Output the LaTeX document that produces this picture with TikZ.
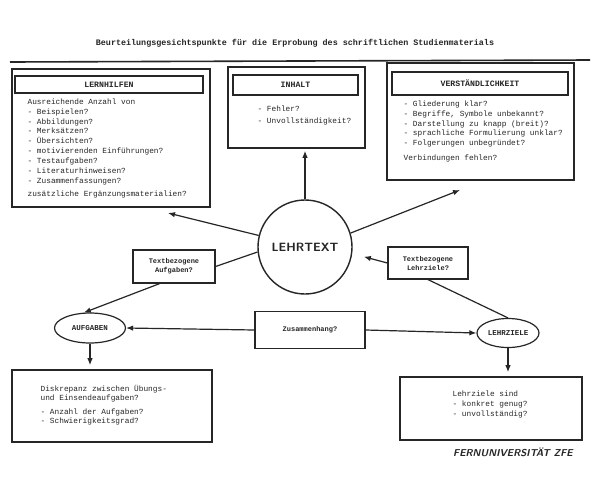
\documentclass[tikz,border=0pt]{standalone}
\usepackage{fontspec}
\setmainfont{Liberation Sans}
\setmonofont{Liberation Mono}
\usetikzlibrary{arrows.meta,shapes.geometric}

\begin{document}
\begin{tikzpicture}[x=1pt,y=-1pt,>={Latex[length=7pt,width=5.5pt]},color=black!85,line width=1.2pt,
  bigbox/.style={draw,line width=1.6pt,inner sep=0pt},
  headbox/.style={draw,line width=1.2pt,inner sep=0pt,font=\ttfamily\bfseries\fontsize{8.2}{10}\selectfont},
  askbox/.style={draw,line width=1.2pt,inner sep=0pt,align=center,font=\ttfamily\bfseries\fontsize{7}{9}\selectfont},
  oval/.style={draw,ellipse,line width=1.2pt,inner sep=0pt,font=\ttfamily\bfseries\fontsize{7.5}{9}\selectfont},
  body/.style={anchor=north west,inner sep=0pt,align=left,font=\ttfamily\fontsize{7.8}{9.9}\selectfont}]
\fill[white] (0,0) rectangle (592,477);
\useasboundingbox (0,0) rectangle (592,477);
% title and rule
\node[font=\ttfamily\bfseries\fontsize{8.4}{10}\selectfont] (titel) at (295,43) {Beurteilungsgesichtspunkte für die Erprobung des schriftlichen Studienmaterials};
\draw[line width=1.6pt] (10,62) -- (590,60);
% upper boxes
\node[bigbox,minimum width=198pt,minimum height=138pt] (lern) at (111,138) {};
\node[headbox,minimum width=188pt,minimum height=17pt] (lernkopf) at (109,84.5) {LERNHILFEN};
\node[body] (lerntext) at (27,98) {Ausreichende Anzahl von\\- Beispielen?\\- Abbildungen?\\- Merksätzen?\\- Übersichten?\\- motivierenden Einführungen?\\- Testaufgaben?\\- Literaturhinweisen?\\- Zusammenfassungen?\\[3pt]zusätzliche Ergänzungsmaterialien?};
\node[bigbox,minimum width=137pt,minimum height=81pt] (inhalt) at (296.5,107.5) {};
\node[headbox,minimum width=125pt,minimum height=20pt] (inhaltkopf) at (295.5,85) {INHALT};
\node[body,font=\ttfamily\fontsize{7.8}{12}\selectfont] (inhalttext) at (257,105) {- Fehler?\\- Unvollständigkeit?};
\node[bigbox,minimum width=187pt,minimum height=117pt] (verst) at (480.5,121.5) {};
\node[headbox,minimum width=176pt,minimum height=23pt] (verstkopf) at (480,83.5) {VERSTÄNDLICHKEIT};
\node[body] (versttext) at (403,100) {- Gliederung klar?\\- Begriffe, Symbole unbekannt?\\- Darstellung zu knapp (breit)?\\- sprachliche Formulierung unklar?\\- Folgerungen unbegründet?\\[5pt]Verbindungen fehlen?};
% centre
\node[draw,circle,line width=1.4pt,minimum size=94pt,inner sep=0pt,font=\sffamily\bfseries\fontsize{12}{14}\selectfont] (lehrtext) at (305,247) {LEHRTEXT};
\node[askbox,minimum width=82pt,minimum height=33pt] (tbA) at (174,266.5) {Textbezogene\\Aufgaben?};
\node[askbox,minimum width=80pt,minimum height=32pt] (tbL) at (428,263) {Textbezogene\\Lehrziele?};
\node[askbox,minimum width=110pt,minimum height=37pt] (zus) at (310,330) {Zusammenhang?};
\node[oval,minimum width=71pt,minimum height=30pt] (aufg) at (90,328) {AUFGABEN};
\node[oval,minimum width=62pt,minimum height=29pt] (lehrz) at (508,333) {LEHRZIELE};
% lower boxes
\node[bigbox,minimum width=200pt,minimum height=72pt] (aufgbox) at (112,406) {};
\node[body,font=\ttfamily\fontsize{7.8}{9}\selectfont] (aufgtext) at (40,385) {Diskrepanz zwischen Übungs-\\und Einsendeaufgaben?\\[5pt]- Anzahl der Aufgaben?\\- Schwierigkeitsgrad?};
\node[bigbox,minimum width=182pt,minimum height=63pt] (zielbox) at (491,408.5) {};
\node[body] (zieltext) at (452,390) {Lehrziele sind\\- konkret genug?\\- unvollständig?};
\node[font=\sffamily\bfseries\itshape\fontsize{10}{12}\selectfont] (fern) at (513,452) {FERNUNIVERSITÄT ZFE};
% connectors
\coordinate (lernpfeil) at (168,213);
\coordinate (verstpfeil) at (460,190);
\draw[->] (lehrtext.166) -- (lernpfeil);
\draw[->] (lehrtext.17) -- (verstpfeil);
\draw[->,shorten >=2pt] (lehrtext.north) -- (inhalt.south -| lehrtext.north);
\draw (lehrtext.186) -- (tbA.east);
\draw[->] (tbA.230) -- (aufg.112);
\draw (lehrz.north) -- (tbL.south);
\draw[->,shorten >=12pt] (tbL.west) -- (lehrtext.-8);
\draw[->] (zus.west) -- (aufg.east);
\draw[->] (zus.east) -- (lehrz.west);
\draw[->,shorten >=4pt] (aufg.south) -- (aufgbox.north -| aufg.south);
\draw[->,shorten >=4pt] (lehrz.south) -- (zielbox.north -| lehrz.south);
\end{tikzpicture}
\end{document}
